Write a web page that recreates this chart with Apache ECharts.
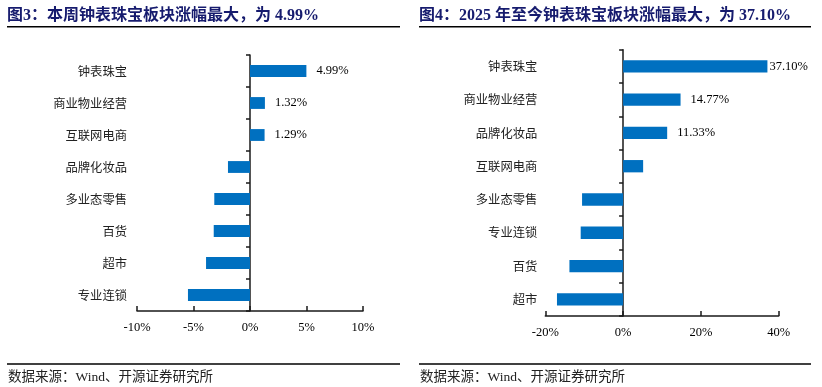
<!DOCTYPE html>
<html><head><meta charset="utf-8">
<script src="https://cdn.jsdelivr.net/npm/echarts@6/dist/echarts.min.js"></script>
<style>html,body{margin:0;padding:0;background:#fff}#c{width:822px;height:387px}</style>
</head><body><div id="c"></div>
<script>
// ---- data ----
const leftTitle = '图3：本周钟表珠宝板块涨幅最大，为 4.99%';
const leftCategories = ['钟表珠宝','商业物业经营','互联网电商','品牌化妆品','多业态零售','百货','超市','专业连锁'];
const leftValues = [4.99, 1.32, 1.29, -1.95, -3.16, -3.21, -3.89, -5.49];
const leftLabelShown = [true, true, true, false, false, false, false, false];
const leftTicks = [-10, -5, 0, 5, 10];

const rightTitle = '图4：2025 年至今钟表珠宝板块涨幅最大，为 37.10%';
const rightCategories = ['钟表珠宝','商业物业经营','品牌化妆品','互联网电商','多业态零售','专业连锁','百货','超市'];
const rightValues = [37.10, 14.77, 11.33, 5.15, -10.55, -10.90, -13.80, -17.00];
const rightLabelShown = [true, true, true, false, false, false, false, false];
const rightTicks = [-20, 0, 20, 40];

const sourceText = '数据来源：Wind、开源证券研究所';

// ---- styles ----
const SERIF = 'Liberation Serif, "Noto Sans CJK SC"';
const CJK = '"Noto Sans CJK SC"';
const BAR = '#0070C0';
const AXIS = '#1a1a1a';
const TITLE_COLOR = '#161B6E';

function buildData(values, shown, distances) {
  return values.map((v, i) => ({
    value: v,
    label: {
      show: shown[i],
      position: 'right',
      distance: distances ? distances[i] : 10,
      formatter: (p) => p.value.toFixed(2) + '%',
      fontFamily: SERIF, fontSize: 12.5, color: '#000'
    }
  }));
}

function xAxisFor(gridIndex, ticks) {
  return {
    gridIndex, type: 'value',
    min: ticks[0], max: ticks[ticks.length - 1],
    interval: ticks[1] - ticks[0],
    axisLine: { show: true, lineStyle: { color: AXIS, width: 1.5 } },
    axisTick: { show: true, inside: true, length: 5, lineStyle: { color: AXIS, width: 1.5 } },
    axisLabel: { formatter: '{value}%', fontFamily: SERIF, fontSize: 12.5, color: '#000', margin: 10 },
    splitLine: { show: false }
  };
}

function yAxisFor(gridIndex, cats, margin) {
  return {
    gridIndex, type: 'category', data: cats, inverse: true,
    axisLine: { show: true, onZero: true, lineStyle: { color: AXIS, width: 1.5 } },
    axisTick: { show: true, length: 4, lineStyle: { color: AXIS, width: 1.5 } },
    axisLabel: { fontFamily: CJK, fontSize: 12.3, color: '#222', margin: margin },
    splitLine: { show: false }
  };
}

const chart = echarts.init(document.getElementById('c'), null, { renderer: 'canvas' });

const line = (x1, x2, y) => ({
  type: 'line', shape: { x1, y1: y, x2, y2: y },
  style: { stroke: '#000', lineWidth: 1.5 }, silent: true
});
const text = (x, y, t, font, color, size, weight) => ({
  type: 'text', x, y,
  style: { text: t, fontFamily: font, fontSize: size, fontWeight: weight ? 'bold' : 'normal',
           fill: color, textVerticalAlign: 'middle', textAlign: 'left' },
  silent: true
});

chart.setOption({
  animation: false,
  backgroundColor: '#fff',
  grid: [
    { left: 137, width: 226, top: 55, height: 256, containLabel: false, outerBoundsMode: 'none' },
    { left: 545.3, width: 233.4, top: 49.7, height: 266.3, containLabel: false, outerBoundsMode: 'none' }
  ],
  xAxis: [xAxisFor(0, leftTicks), xAxisFor(1, rightTicks)],
  yAxis: [yAxisFor(0, leftCategories, 10), yAxisFor(1, rightCategories, 8)],
  series: [
    { type: 'bar', xAxisIndex: 0, yAxisIndex: 0, barWidth: '37%',
      itemStyle: { color: BAR }, data: buildData(leftValues, leftLabelShown) },
    { type: 'bar', xAxisIndex: 1, yAxisIndex: 1, barWidth: '37%',
      itemStyle: { color: BAR }, data: buildData(rightValues, rightLabelShown, [2, 10, 10, 10, 10, 10, 10, 10]) }
  ],
  graphic: [
    text(7, 15.5, leftTitle, SERIF, TITLE_COLOR, 16, true),
    text(419, 15.5, rightTitle, SERIF, TITLE_COLOR, 16, true),
    line(7, 400, 26.7),
    line(419, 811, 26.7),
    line(7, 400, 364),
    line(419, 811, 364),
    text(8, 377, sourceText, SERIF, '#222', 13.5, false),
    text(420, 377, sourceText, SERIF, '#222', 13.5, false)
  ]
});
</script>
</body></html>
